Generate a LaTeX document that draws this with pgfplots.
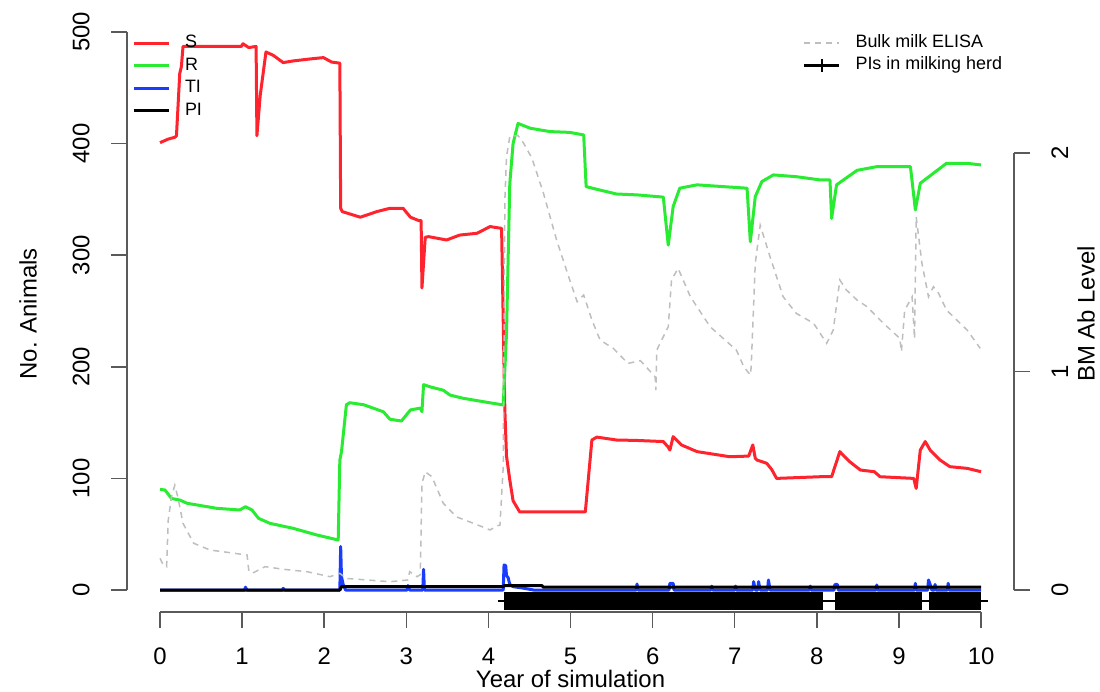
\documentclass[border=0pt]{standalone}
\usepackage{fontspec}
\setmainfont{Liberation Sans}
\usepackage{pgfplots}
\pgfplotsset{compat=1.18}
\usepackage{pgfplotstable}

\definecolor{sred}{RGB}{255,35,45}
\definecolor{rgreen}{RGB}{40,235,50}
\definecolor{tiblue}{RGB}{25,60,255}
\definecolor{elisa}{RGB}{190,190,190}
\definecolor{axgray}{RGB}{90,90,90}

% susceptible
\pgfplotstableread{
x y
0 400.8
0.10 404
0.18 405.6
0.20 407
0.24 462.7
0.26 469
0.28 487
0.60 487
0.99 487
1.01 489.4
1.08 486
1.17 487
1.18 407
1.22 443
1.29 482
1.38 479
1.50 472.5
1.62 474
1.83 475.8
1.99 477
2.09 473
2.19 472
2.20 342
2.22 339
2.44 334
2.64 339
2.80 342
2.96 342
3.05 334
3.15 331
3.18 331
3.19 270.6
3.23 316
3.27 316.6
3.49 313.6
3.65 318
3.86 319.6
4.02 325.6
4.16 324
4.19 200
4.20 161
4.22 120
4.26 98.6
4.30 80
4.38 70
5.18 70
5.26 134.4
5.32 137
5.56 134.4
5.81 134
6.13 133
6.19 128
6.21 125.4
6.25 137.4
6.35 130
6.54 124
6.94 119.4
7.17 120
7.22 130
7.25 118
7.27 116.5
7.39 113.5
7.45 108
7.51 100
8.04 101.5
8.18 101.5
8.28 124
8.33 120
8.40 115
8.53 107.5
8.70 106
8.77 101.5
9.18 100
9.21 91
9.26 125.4
9.32 133
9.38 125.4
9.50 116.5
9.62 110.5
9.83 109
10.0 106
}\Sdata

% recovered
\pgfplotstableread{
x y
0 90.2
0.06 89.6
0.14 82
0.24 80.6
0.33 77.7
0.69 73.2
0.97 71.7
1.04 74.6
1.12 71.7
1.20 64.2
1.34 59.7
1.62 55.3
1.91 49.3
2.17 44.8
2.19 116.5
2.21 123.8
2.27 166
2.31 167.8
2.48 166
2.72 159.7
2.80 153
2.94 151.4
3.05 161.3
3.17 163
3.19 159.7
3.21 184
3.29 182
3.45 179
3.53 174.7
3.69 171.8
3.94 168.7
4.18 165.8
4.22 230
4.26 364
4.30 400
4.36 418
4.51 413.7
4.75 410.7
4.99 410
5.16 407.7
5.19 361.4
5.32 359
5.56 354.8
5.81 354
6.13 352
6.19 309
6.25 343.5
6.33 360
6.54 363
6.86 361.4
7.15 360
7.19 312
7.25 352.4
7.33 365.9
7.47 371.9
7.75 370.3
8.04 367.4
8.16 367.4
8.18 333
8.24 363
8.49 376
8.73 379.3
9.14 379.3
9.20 340.5
9.26 364.4
9.42 373.4
9.58 382.3
9.83 382.3
10.0 380.8
}\Rdata

% transiently infected
\pgfplotstableread{
x y
0 0
1.03 0
1.04 2.5
1.06 0
1.49 0
1.50 1.5
1.52 0
2.19 0
2.20 39
2.21 12
2.23 5
2.26 0
3.01 0
3.02 4
3.04 0
3.20 0
3.21 18.5
3.22 0
4.18 0
4.19 22.4
4.21 22
4.22 13
4.24 11
4.26 5
4.30 3
4.40 2
4.55 0
5.80 0
5.81 5.4
5.82 0
6.20 0
6.21 6
6.25 6
6.26 0
6.71 0
6.72 3.5
6.73 0
7.00 0
7.01 3.5
7.02 0
7.22 0
7.23 7.5
7.25 0
7.28 0
7.29 7.5
7.31 0
7.40 0
7.41 9
7.43 0
7.91 0
7.92 3.5
7.93 0
8.21 0
8.22 5
8.25 5
8.26 0
8.72 0
8.73 4.5
8.74 0
9.19 0
9.20 6
9.21 0
9.35 0
9.36 9
9.38 5
9.40 0
9.43 0
9.44 5
9.45 0
9.59 0
9.60 6
9.61 0
10.0 0
}\TIdata

% persistently infected
\pgfplotstableread{
x y
0 0
2.19 0
2.21 3
4.18 3
4.19 4
4.65 4
4.67 2.5
10.0 2.5
}\PIdata

% bulk milk ELISA (right axis)
\pgfplotstableread{
x y
0 0.145
0.04 0.114
0.08 0.107
0.10 0.32
0.14 0.427
0.18 0.48
0.22 0.42
0.28 0.305
0.41 0.214
0.61 0.183
0.85 0.171
1.06 0.16
1.08 0.092
1.12 0.076
1.28 0.107
1.50 0.095
1.79 0.084
2.07 0.061
2.19 0.076
2.27 0.053
2.52 0.046
2.80 0.038
3.02 0.046
3.04 0.084
3.13 0.061
3.17 0.07
3.19 0.488
3.23 0.541
3.31 0.519
3.45 0.397
3.61 0.335
3.82 0.305
4.02 0.275
4.10 0.293
4.14 0.297
4.18 0.564
4.20 1.785
4.22 1.983
4.26 2.075
4.36 2.08
4.43 2.044
4.53 1.976
4.67 1.816
4.83 1.602
4.99 1.419
5.08 1.32
5.16 1.35
5.26 1.236
5.36 1.144
5.52 1.106
5.70 1.037
5.85 1.05
6.03 0.976
6.04 0.915
6.05 1.098
6.19 1.205
6.23 1.419
6.31 1.472
6.46 1.342
6.70 1.205
7.02 1.098
7.11 1.022
7.19 0.984
7.20 1.02
7.25 1.495
7.31 1.67
7.43 1.525
7.59 1.342
7.75 1.266
7.96 1.221
8.12 1.129
8.20 1.19
8.28 1.419
8.36 1.373
8.49 1.327
8.61 1.297
8.81 1.221
9.01 1.152
9.03 1.091
9.07 1.281
9.16 1.342
9.19 1.15
9.21 1.708
9.28 1.495
9.36 1.342
9.42 1.388
9.48 1.36
9.58 1.281
9.83 1.19
9.99 1.106
}\ELISAdata

\pgfplotsset{
  rstyle/.style={
    x=1.642cm, xmin=-0.4, xmax=10.4,
    at={(2.544cm,1.58cm)}, anchor=south west,
    clip=false,
    axis line style={draw=none},
    tick style={axgray, line width=0.03cm},
    major tick length=0.32cm,
    tick align=outside,
    /pgf/number format/assume math mode=true,
    tick label style={font=\fontsize{13.6}{16}\selectfont},
    legend cell align=left,
    legend image code/.code={\draw[mark repeat=2,mark phase=2,##1] plot coordinates {(0cm,0cm) (0.35cm,0cm) (0.7cm,0cm)};},
    legend style={draw=none, fill=none, inner sep=0pt, outer sep=0pt,
      font=\fontsize{10.2}{12}\selectfont, row sep=0.1cm, column sep=0.3cm,
      nodes={inner sep=0pt, text height=0.26cm, text depth=0.09cm}},
  }
}

\begin{document}
\begin{tikzpicture}
\useasboundingbox (0,0) rectangle (22cm,13.82cm);
\begin{axis}[rstyle,
  y=0.02232cm, ymin=-19.7, ymax=506,
  axis x line*=bottom, axis y line*=left,
  xtick={0,1,...,10}, ytick={0,100,...,500},
  xticklabel style={anchor=center, yshift=-0.56cm},
  yticklabel style={rotate=90, anchor=center, yshift=0.6cm},
  xlabel={Year of simulation}, ylabel={No. Animals},
  every axis x label/.style={at={(axis description cs:0.5,-0.1142)}, anchor=center,
    font=\fontsize{13.6}{16}\selectfont},
  every axis y label/.style={at={(axis description cs:-0.1119,0.508)}, rotate=90, anchor=center,
    font=\fontsize{13.6}{16}\selectfont},
  legend style={at={(axis cs:-0.341,497.5)}, anchor=north west},
]
\draw[axgray, line width=0.03cm] (axis cs:0,-19.7) -- (axis cs:10,-19.7);
\draw[axgray, line width=0.03cm] (axis cs:-0.4,0) -- (axis cs:-0.4,500);
\addplot[sred, line width=0.06cm, line join=round] table {\Sdata};
\addlegendentry{S}
\addplot[rgreen, line width=0.06cm, line join=round] table {\Rdata};
\addlegendentry{R}
\addplot[tiblue, line width=0.06cm, line join=round] table {\TIdata};
\addlegendentry{TI}
\addplot[black, line width=0.06cm, line join=round] table {\PIdata};
\addlegendentry{PI}
% PIs in milking herd (dense crosses merge into a bar)
\addplot[black, line width=0.05cm, forget plot] coordinates {(4.12,-9.9) (10.08,-9.9)};
\addplot[black, line width=0.36cm, forget plot] coordinates {(4.19,-9.9) (8.07,-9.9)};
\addplot[black, line width=0.36cm, forget plot] coordinates {(8.22,-9.9) (9.28,-9.9)};
\addplot[black, line width=0.36cm, forget plot] coordinates {(9.37,-9.9) (10.0,-9.9)};
\end{axis}

\begin{axis}[rstyle,
  y=4.37cm, ymin=-0.1006, ymax=2.584,
  axis x line=none, axis y line*=right,
  ytick={0,1,2},
  yticklabel style={rotate=90, anchor=center, yshift=-0.6cm},
  ylabel={BM Ab Level},
  every axis y label/.style={at={(axis description cs:1.0813,0.508)}, rotate=90, anchor=center,
    font=\fontsize{13.6}{16}\selectfont},
  legend style={at={(axis cs:7.832,2.5435)}, anchor=north west},
]
\draw[axgray, line width=0.03cm] (axis cs:10.4,0) -- (axis cs:10.4,2);
\addplot[elisa, line width=0.03cm, dash pattern=on 0.12cm off 0.1cm] table {\ELISAdata};
\addlegendentry{Bulk milk ELISA}
\addlegendimage{black, line width=0.05cm, mark=+, mark size=0.13cm, mark options={solid, line width=0.05cm}}
\addlegendentry{PIs in milking herd}
\end{axis}
\end{tikzpicture}
\end{document}
